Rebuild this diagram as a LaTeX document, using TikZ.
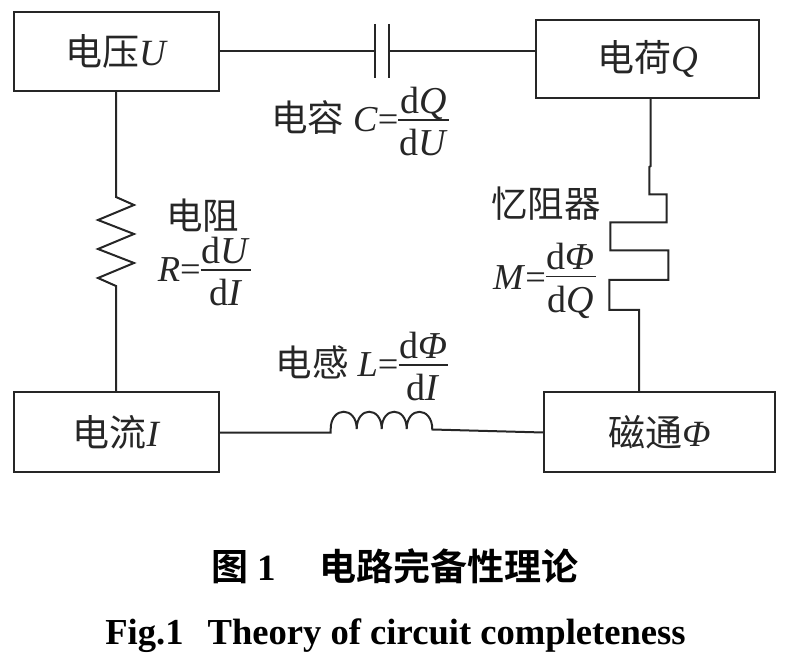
\documentclass[tikz,border=0pt]{standalone}
\usepackage{fontspec}
\setmainfont{Liberation Serif}
\newfontfamily\cjk{Noto Sans CJK SC}[BoldFont=* Bold]
\newcommand{\frc}[2]{\raisebox{3pt}{$\vcenter{\hbox{\setlength{\arrayrulewidth}{1.8pt}\setlength{\tabcolsep}{1pt}\def\arraystretch{0}\fontsize{38}{40}\selectfont\begin{tabular}{c}\rule[-6pt]{0pt}{34pt}#1\\\hline \rule[-3pt]{0pt}{38pt}#2\end{tabular}}}$}}
\newcommand{\vv}[1]{\textit{#1}}
\tikzset{
  wire/.style={draw=black!85,line width=2pt,line join=miter},
  box/.style={draw=black!85,line width=2pt,inner sep=0pt,fill=white,text=black!85,font=\fontsize{37}{42}\selectfont},
  lab/.style={inner sep=0pt,text=black!85,font=\fontsize{36.5}{42}\selectfont,align=center},
  capzh/.style={inner sep=0pt,font=\fontsize{37}{42}\selectfont\bfseries},
  capen/.style={inner sep=0pt,font=\fontsize{36.6}{42}\selectfont\bfseries}
}
\begin{document}
\begin{tikzpicture}[x=1pt,y=-1pt]
\useasboundingbox (0,0) rectangle (788,660);
\node[box,minimum width=205pt,minimum height=79pt] (U) at (116.5,51.5) {{\cjk 电压}\vv{U}};
\node[box,minimum width=223pt,minimum height=78pt] (Q) at (647.5,59) {{\cjk 电荷}\vv{Q}};
\node[box,minimum width=205pt,minimum height=80pt] (I) at (116.5,432) {{\cjk 电流}\vv{I}};
\node[box,minimum width=231pt,minimum height=80pt] (P) at (659.5,432) {{\cjk 磁通}\vv{Φ}};
% capacitor
\coordinate (c1) at (375,51);
\coordinate (c2) at (389,51);
\draw[wire] (U.east |- c1) -- (c1);
\draw[wire] (c2) -- (Q.west |- c2);
\draw[wire] (375,24) -- (375,78);
\draw[wire] (389,24) -- (389,78);
% resistor
\coordinate (r1) at (116,197);
\coordinate (r2) at (116,286);
\draw[wire] (U.south -| r1) -- (r1) -- (134,205) -- (98,220) -- (134,234) -- (98,249) -- (134,263) -- (98,278) -- (r2) -- (I.north -| r2);
% memristor
\coordinate (m1) at (650.7,166);
\coordinate (m2) at (639,310);
\draw[wire] (Q.south -| m1) -- (m1) -- (649.3,167) -- (649.3,194.3) -- (666.7,194.3) -- (666.7,222.3) -- (610.3,222.3) -- (610.3,250.3) -- (668.3,250.3) -- (668.3,280) -- (609.3,280) -- (609.3,310) -- (m2) -- (P.north -| m2);
% inductor
\coordinate (l1) at (330.7,432.7);
\coordinate (l2) at (432.3,429.5);
\coordinate (l3) at (543,432.5);
\draw[wire] (I.east |- l1) -- (l1) -- (330.7,429)
  .. controls (330.7,406) and (356.7,406) .. (356.7,429)
  .. controls (356.7,406) and (381.7,406) .. (381.7,429)
  .. controls (381.7,406) and (406.7,406) .. (406.7,429)
  .. controls (406.7,406) and (432.3,406) .. (l2) -- (l3);
% labels
\node[lab] (lc) at (360,122) {{\cjk 电容} \vv{C}=\frc{d\vv{Q}}{d\vv{U}}};
\node[lab] (lr1) at (202.5,216) {\cjk 电阻};
\node[lab] (lr2) at (204.5,272) {\vv{R}=\frc{d\vv{U}}{d\vv{I}}};
\node[lab] (lm1) at (546,204) {\cjk 忆阻器};
\node[lab] (lm2) at (544.5,280) {\vv{M}=\frc{d\vv{Φ}}{d\vv{Q}}};
\node[lab] (ll) at (362,367) {{\cjk 电感} \vv{L}=\frc{d\vv{Φ}}{d\vv{I}}};
% captions
\node[capzh] (c1z) at (395,566) {{\cjk 图} 1\hspace{43pt}{\cjk 电路完备性理论}};
\node[capen] (c1e) at (395.5,636) {Fig.1\hspace{24pt}Theory of circuit completeness};
\end{tikzpicture}
\end{document}
